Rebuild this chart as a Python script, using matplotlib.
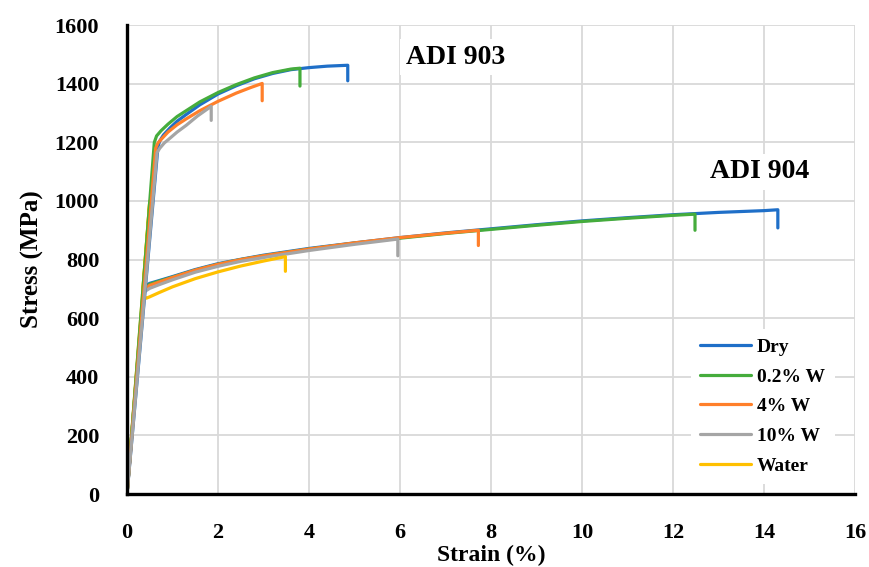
import numpy as np
import matplotlib
matplotlib.use('Agg')
import matplotlib.pyplot as plt

plt.rcParams['font.family'] = ['Liberation Serif', 'DejaVu Serif']
plt.rcParams['font.weight'] = 'bold'

labels = ['Dry', '0.2% W', '4% W', '10% W', 'Water']
colors = ['#1F6FC8', '#45AC3C', '#FF7F2A', '#A5A5A5', '#FFC000']

# ADI 903 curves (strain %, stress MPa)
dry_903_x = [0, 0.68, 0.72, 0.8, 0.95, 1.1, 1.3, 1.6, 2.0, 2.4, 2.8, 3.2, 3.6, 4.0, 4.4, 4.85, 4.85]
dry_903_y = [0, 1185, 1205, 1225, 1250, 1272, 1295, 1328, 1365, 1393, 1417, 1435, 1448, 1455, 1460, 1463, 1410]
w02_903_x = [0, 0.6, 0.65, 0.75, 0.9, 1.1, 1.3, 1.6, 2.0, 2.4, 2.8, 3.2, 3.6, 3.8, 3.8]
w02_903_y = [0, 1200, 1222, 1240, 1262, 1288, 1308, 1338, 1370, 1397, 1420, 1438, 1450, 1453, 1392]
w4_903_x = [0, 0.63, 0.68, 0.78, 0.9, 1.1, 1.3, 1.6, 2.0, 2.4, 2.7, 2.97, 2.97]
w4_903_y = [0, 1180, 1198, 1215, 1235, 1260, 1280, 1308, 1340, 1368, 1386, 1401, 1342]
w10_903_x = [0, 0.66, 0.72, 0.82, 0.95, 1.1, 1.3, 1.55, 1.85, 1.85]
w10_903_y = [0, 1165, 1180, 1198, 1215, 1235, 1258, 1290, 1323, 1275]

# ADI 904 curves
dry_904_x = [0, 0.36, 0.42, 0.5, 0.7, 1, 1.5, 2, 2.5, 3, 4, 5, 6, 7, 8, 9, 10, 11, 12, 13, 14, 14.3, 14.3]
dry_904_y = [0, 700, 712, 719, 728, 742, 766, 786, 801, 815, 838, 857, 875, 891, 905, 919, 932, 943, 953, 961, 967, 970, 908]
w02_904_x = [0, 0.36, 0.42, 0.5, 0.7, 1, 1.5, 2, 2.5, 3, 4, 5, 6, 7, 8, 9, 10, 11, 12, 12.48, 12.48]
w02_904_y = [0, 698, 709, 716, 726, 740, 764, 784, 800, 813, 836, 856, 873, 889, 903, 917, 930, 941, 951, 955, 900]
w4_904_x = [0, 0.36, 0.42, 0.5, 0.7, 1, 1.5, 2, 2.5, 3, 4, 5, 6, 7, 7.72, 7.72]
w4_904_y = [0, 694, 704, 712, 723, 739, 764, 784, 800, 813, 836, 857, 875, 890, 900, 848]
w10_904_x = [0, 0.35, 0.42, 0.5, 0.7, 1, 1.5, 2, 2.5, 3, 4, 5, 5.95, 5.95]
w10_904_y = [0, 686, 694, 702, 714, 731, 757, 777, 794, 807, 831, 852, 870, 813]
water_x = [0, 0.50, 0.34, 0.42, 0.5, 0.7, 1, 1.5, 2, 2.5, 3, 3.48, 3.48]
water_y = [0, 1000, 680, 668, 673, 687, 707, 735, 758, 778, 795, 810, 760]

curves_903 = [(dry_903_x, dry_903_y), (w02_903_x, w02_903_y),
              (w4_903_x, w4_903_y), (w10_903_x, w10_903_y)]
curves_904 = [(dry_904_x, dry_904_y), (w02_904_x, w02_904_y),
              (w4_904_x, w4_904_y), (w10_904_x, w10_904_y), (water_x, water_y)]

fig = plt.figure(figsize=(8.7, 5.67), dpi=100)
ax = fig.add_axes([0.146, 0.1287, 0.837, 0.827])

lw = 2.3
handles = []
for i, (x, y) in enumerate(curves_904):
    h, = ax.plot(x, y, color=colors[i], lw=lw, solid_capstyle='round',
                 solid_joinstyle='round', zorder=3)
    handles.append(h)
for i, (x, y) in enumerate(curves_903):
    ax.plot(x, y, color=colors[i], lw=lw, solid_capstyle='round',
            solid_joinstyle='round', zorder=3)

ax.set_xlim(0, 16)
ax.set_ylim(0, 1600)
ax.set_xticks(np.arange(0, 17, 2))
ax.set_yticks(np.arange(0, 1601, 200))
ax.grid(True, color='#D9D9D9', lw=1.3, zorder=0)
ax.set_axisbelow(True)

for s in ['top', 'right']:
    ax.spines[s].set_visible(False)
for s in ['left', 'bottom']:
    ax.spines[s].set_linewidth(2.4)
    ax.spines[s].set_color('black')
    ax.spines[s].set_zorder(4)

ax.tick_params(length=0, labelsize=16)
ax.tick_params(axis='x', pad=21)
ax.tick_params(axis='y', pad=20)

ax.set_xlabel('Strain (%)', fontsize=17, fontweight='bold', labelpad=1)
ax.set_ylabel('Stress (MPa)', fontsize=18, fontweight='bold', labelpad=8)

ax.text(7.21, 1491, 'ADI 903', fontsize=20, fontweight='bold', ha='center', va='center',
        bbox=dict(facecolor='white', edgecolor='none', pad=4), zorder=2)
ax.text(13.89, 1099, 'ADI 904', fontsize=20, fontweight='bold', ha='center', va='center',
        bbox=dict(facecolor='white', edgecolor='none', pad=4), zorder=2)

leg = ax.legend(handles, labels, loc='lower right', bbox_to_anchor=(0.985, 0.0),
                frameon=True, fontsize=14, handlelength=2.6, handletextpad=0.3,
                labelspacing=0.62, borderpad=0.5)
leg.get_frame().set_edgecolor('none')
leg.get_frame().set_facecolor('white')
leg.get_frame().set_alpha(1)
for t in leg.get_texts():
    t.set_fontweight('bold')

fig.savefig('out.png', dpi=100)
